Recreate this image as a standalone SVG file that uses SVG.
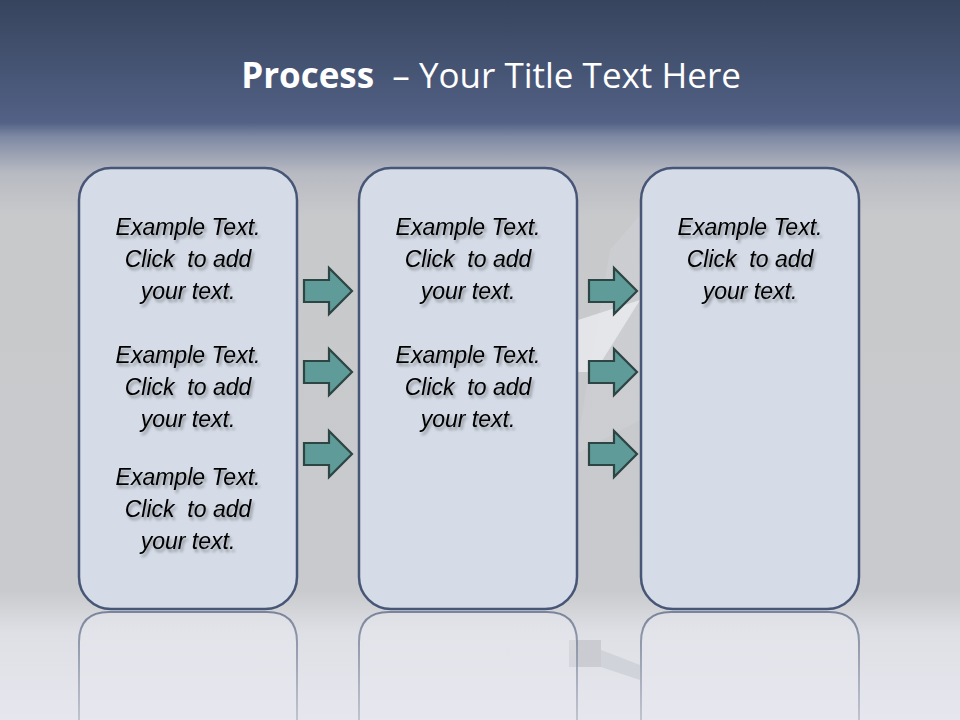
<svg xmlns="http://www.w3.org/2000/svg" width="960" height="720" viewBox="0 0 960 720">
<defs>
<linearGradient id="bg" x1="0" y1="0" x2="0" y2="1">
<stop offset="0" stop-color="#37445e"/>
<stop offset="0.17" stop-color="#526185"/>
<stop offset="0.19" stop-color="#7e89a3"/>
<stop offset="0.24" stop-color="#b8bac2"/>
<stop offset="0.30" stop-color="#c8c9cb"/>
<stop offset="0.82" stop-color="#c9cacd"/>
<stop offset="0.88" stop-color="#dfe0e6"/>
<stop offset="1" stop-color="#e6e7ee"/>
</linearGradient>
<linearGradient id="refl" x1="0" y1="0" x2="0" y2="1">
<stop offset="0" stop-color="#e8eaf1" stop-opacity="0.5"/>
<stop offset="1" stop-color="#e8eaf1" stop-opacity="0.15"/>
</linearGradient>
<linearGradient id="reflStroke" x1="0" y1="0" x2="0" y2="1">
<stop offset="0" stop-color="#6f7a92" stop-opacity="0.9"/>
<stop offset="1" stop-color="#a5abb8" stop-opacity="0.6"/>
</linearGradient>
<filter id="ts" x="-10%" y="-20%" width="130%" height="160%">
<feGaussianBlur in="SourceAlpha" stdDeviation="1.6"/>
<feOffset dx="2" dy="3" result="b"/>
<feComponentTransfer><feFuncA type="linear" slope="0.35"/></feComponentTransfer>
<feMerge><feMergeNode/><feMergeNode in="SourceGraphic"/></feMerge>
</filter>
<path id="arrow" d="M0,-11 H25 V-23 L48,0 L25,23 V11 H0 Z"/>
</defs>
<style>
.box{fill:#d5dce7;stroke:#475677;stroke-width:2.5}
.rbox{fill:url(#refl);stroke:url(#reflStroke);stroke-width:2}
.t{font-family:"Liberation Sans",Arial,sans-serif;font-style:italic;font-size:23px;fill:#000;text-anchor:middle;white-space:pre}
.arr{fill:#5f9b98;stroke:#2d4543;stroke-width:2.2}
.title{font-family:"Open Sans","Liberation Sans",sans-serif;font-size:35px;fill:#fff;text-anchor:middle;white-space:pre}
</style>
<rect width="960" height="720" fill="url(#bg)"/>
<polygon points="610,250 640,215 640,420 575,455" fill="#d0d1d5" opacity="0.5"/>
<polygon points="578,320 640,300 595,372 576,372" fill="#eeeef1" opacity="0.75"/>
<rect x="569" y="640" width="32" height="27" fill="#c6c7cc" opacity="0.8"/>
<polygon points="601,650 640,665 640,680 601,667" fill="#c0c3cb" opacity="0.5"/>
<g id="reflections">
<path class="rbox" d="M79,720 V642 Q79,612 109,612 H267 Q297,612 297,642 V720"/>
<path class="rbox" d="M359,720 V642 Q359,612 389,612 H547 Q577,612 577,642 V720"/>
<path class="rbox" d="M641,720 V642 Q641,612 671,612 H829 Q859,612 859,642 V720"/>
</g>
<text class="title" x="491" y="88" xml:space="preserve"><tspan font-weight="bold">Process</tspan>  – Your Title Text Here</text>
<g id="box1">
<rect class="box" x="79" y="168" width="218" height="441" rx="32"/>
<g filter="url(#ts)">
<text class="t" x="188" y="235">Example Text.</text>
<text class="t" x="188" y="267" xml:space="preserve">Click  to add</text>
<text class="t" x="188" y="299">your text.</text>
<text class="t" x="188" y="363">Example Text.</text>
<text class="t" x="188" y="395" xml:space="preserve">Click  to add</text>
<text class="t" x="188" y="427">your text.</text>
<text class="t" x="188" y="485">Example Text.</text>
<text class="t" x="188" y="517" xml:space="preserve">Click  to add</text>
<text class="t" x="188" y="549">your text.</text>
</g>
</g>
<g id="box2">
<rect class="box" x="359" y="168" width="218" height="441" rx="32"/>
<g filter="url(#ts)">
<text class="t" x="468" y="235">Example Text.</text>
<text class="t" x="468" y="267" xml:space="preserve">Click  to add</text>
<text class="t" x="468" y="299">your text.</text>
<text class="t" x="468" y="363">Example Text.</text>
<text class="t" x="468" y="395" xml:space="preserve">Click  to add</text>
<text class="t" x="468" y="427">your text.</text>
</g>
</g>
<g id="box3">
<rect class="box" x="641" y="168" width="218" height="441" rx="32"/>
<g filter="url(#ts)">
<text class="t" x="750" y="235">Example Text.</text>
<text class="t" x="750" y="267" xml:space="preserve">Click  to add</text>
<text class="t" x="750" y="299">your text.</text>
</g>
</g>
<g id="connectors">
<use href="#arrow" class="arr" x="304" y="291"/>
<use href="#arrow" class="arr" x="304" y="372"/>
<use href="#arrow" class="arr" x="304" y="454"/>
<use href="#arrow" class="arr" x="589" y="291"/>
<use href="#arrow" class="arr" x="589" y="372"/>
<use href="#arrow" class="arr" x="589" y="454"/>
</g>
</svg>
